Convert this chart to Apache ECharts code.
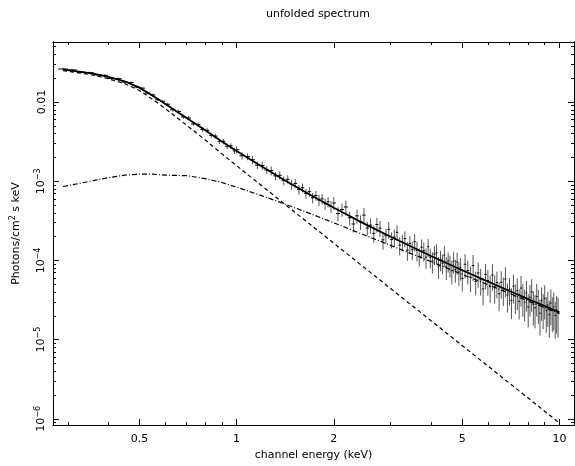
<!DOCTYPE html>
<html><head><meta charset="utf-8">
<script src="https://cdn.jsdelivr.net/npm/echarts@6/dist/echarts.min.js"></script>
<style>html,body{margin:0;padding:0;background:#fff}#c{width:575px;height:466px}</style>
</head><body><div id="c"></div>
<script>
// ---- model curves (keV, photons/cm^2/s/keV) ----
const modelE = [0.29,0.33,0.36,0.40,0.45,0.50,0.55,0.60,0.70,0.80,0.90,1.0,1.2,1.4,1.7,2.0,2.5,3.0,4.0,5.0,6.0,7.0,8.0,10.0];
const modelTotal = [2.575e-2,2.412e-2,2.290e-2,2.088e-2,1.833e-2,1.524e-2,1.204e-2,9.55e-3,6.29e-3,4.40e-3,3.18e-3,2.415e-3,1.524e-3,1.048e-3,6.67e-4,4.64e-4,2.88e-4,1.99e-4,1.14e-4,7.52e-5,5.42e-5,4.12e-5,3.25e-5,2.22e-5];
const modelPow = [2.489e-2,2.317e-2,2.188e-2,1.977e-2,1.713e-2,1.401e-2,1.081e-2,8.35e-3,5.11e-3,3.32e-3,2.22e-3,1.571e-3,8.69e-4,5.26e-4,2.80e-4,1.652e-4,8.0e-5,4.42e-5,1.736e-5,8.40e-6,4.65e-6,2.82e-6,1.83e-6,8.84e-7];
const modelBump = [8.59e-4,9.49e-4,1.020e-3,1.112e-3,1.195e-3,1.230e-3,1.230e-3,1.195e-3,1.178e-3,1.081e-3,9.64e-4,8.44e-4,6.55e-4,5.22e-4,3.87e-4,2.99e-4,2.08e-4,1.549e-4,9.66e-5,6.68e-5,4.95e-5,3.84e-5,3.07e-5,2.13e-5];

// ---- unfolded data points ----
const dataE = [
0.29,0.31,0.33,0.35,0.37,0.39,0.41,0.43,0.45,0.47,0.49,0.51,0.53,0.55,0.57,0.59,
0.61,0.635,0.66,0.685,0.71,0.735,0.76,0.785,0.81,0.835,0.86,0.885,0.91,0.935,0.96,0.985,
1.00,1.04,1.08,1.12,1.16,1.20,1.24,1.28,1.32,1.36,1.40,1.44,1.48,1.52,1.56,1.60,1.64,1.68,1.72,1.76,1.80,1.84,1.88,1.92,1.96,
2.00,2.06,2.12,2.18,2.24,2.30,2.36,2.42,2.48,2.54,2.60,2.66,2.72,2.78,2.84,2.90,2.96,3.02,3.08,3.14,3.20,3.26,3.32,3.38,3.44,3.50,3.56,3.62,3.68,3.74,3.80,3.86,3.92,3.98,4.04,4.10,4.16,4.22,4.28,4.34,4.40,4.46,4.52,4.58,4.64,4.70,4.76,4.82,4.88,4.94,
5.0,5.1,5.2,5.3,5.4,5.5,5.6,5.7,5.8,5.9,6.0,6.1,6.2,6.3,6.4,6.5,6.6,6.7,6.8,6.9,7.0,7.1,7.2,7.3,7.4,7.5,7.6,7.7,7.8,7.9,8.0,8.1,8.2,8.3,8.4,8.5,8.6,8.7,8.8,8.9,9.0,9.1,9.2,9.3,9.4,9.5,9.6,9.7,9.8,9.9];
const dataF = [
0.0262,0.0255,0.0238,0.0236,0.0221,0.0218,0.0199,0.0198,0.0179,0.0176,0.0155,0.0150,0.0130,0.0123,0.0107,0.0102,
9.4e-3,8.0e-3,7.6e-3,6.5e-3,6.3e-3,5.3e-3,5.2e-3,4.5e-3,4.4e-3,3.8e-3,3.72e-3,3.2e-3,3.2e-3,2.77e-3,2.8e-3,2.42e-3,
2.50e-3,2.10e-3,2.05e-3,1.87e-3,1.60e-3,1.58e-3,1.39e-3,1.36e-3,1.17e-3,1.19e-3,1.02e-3,1.06e-3,9.1e-4,9.4e-4,7.9e-4,8.3e-4,7.0e-4,7.4e-4,6.2e-4,6.6e-4,5.8e-4,6.0e-4,5.2e-4,5.5e-4,4.8e-4,
5.32e-4,3.92e-4,4.40e-4,4.74e-4,3.46e-4,2.89e-4,3.66e-4,3.06e-4,3.74e-4,2.57e-4,2.79e-4,2.20e-4,2.85e-4,2.56e-4,1.82e-4,2.06e-4,2.47e-4,1.84e-4,1.97e-4,2.27e-4,1.56e-4,1.71e-4,1.89e-4,1.35e-4,1.64e-4,1.37e-4,1.73e-4,1.35e-4,1.13e-4,1.47e-4,1.33e-4,1.10e-4,1.49e-4,1.10e-4,9.77e-5,1.20e-4,1.25e-4,8.48e-5,1.03e-4,9.24e-5,1.17e-4,8.31e-5,9.85e-5,8.80e-5,7.45e-5,9.76e-5,7.69e-5,9.55e-5,7.17e-5,8.18e-5,
5.94e-5,8.97e-5,7.46e-5,6.17e-5,8.62e-5,5.45e-5,6.96e-5,5.71e-5,4.37e-5,6.67e-5,5.59e-5,4.68e-5,6.57e-5,4.67e-5,5.27e-5,3.80e-5,5.31e-5,4.37e-5,5.83e-5,3.67e-5,4.33e-5,3.13e-5,4.75e-5,3.55e-5,4.15e-5,3.05e-5,4.49e-5,3.47e-5,2.98e-5,3.89e-5,2.59e-5,3.43e-5,4.02e-5,2.80e-5,2.53e-5,3.51e-5,2.92e-5,2.16e-5,3.14e-5,2.57e-5,3.32e-5,2.33e-5,2.73e-5,2.07e-5,2.90e-5,2.34e-5,2.61e-5,2.02e-5,2.38e-5,2.22e-5];
const dataErr = [
0.035,0.03,0.03,0.028,0.03,0.032,0.03,0.03,0.033,0.032,0.035,0.035,0.04,0.04,0.042,0.045,
0.05,0.05,0.055,0.055,0.06,0.06,0.06,0.065,0.065,0.07,0.07,0.075,0.075,0.08,0.08,0.085,
0.10,0.11,0.10,0.12,0.11,0.12,0.11,0.13,0.12,0.12,0.13,0.12,0.14,0.13,0.14,0.13,0.15,0.14,0.15,0.14,0.16,0.15,0.16,0.15,0.17,
0.18,0.2,0.19,0.21,0.2,0.22,0.2,0.21,0.23,0.2,0.22,0.24,0.21,0.23,0.25,0.22,0.24,0.23,0.25,0.22,0.26,0.24,0.23,0.27,0.24,0.26,0.25,0.28,0.26,0.25,0.27,0.29,0.26,0.28,0.3,0.27,0.28,0.31,0.29,0.28,0.3,0.32,0.29,0.31,0.33,0.3,0.32,0.31,0.34,0.32,
0.32,0.34,0.33,0.35,0.36,0.33,0.35,0.37,0.38,0.35,0.36,0.38,0.37,0.39,0.37,0.4,0.38,0.39,0.41,0.4,0.38,0.42,0.4,0.41,0.43,0.41,0.42,0.44,0.43,0.42,0.45,0.43,0.44,0.46,0.45,0.44,0.46,0.48,0.45,0.47,0.46,0.48,0.47,0.49,0.48,0.47,0.5,0.49,0.5,0.52];

// ---- ticks ----
const xMajor = [0.5,1,2,5,10];
const xMajorLabels = ['0.5','1','2','5','10'];
const xMinor = [0.3,0.4,0.6,0.7,0.8,0.9,3,4,6,7,8,9];
const yMajor = [1e-2,1e-3,1e-4,1e-5,1e-6];
const yMajorLabels = ['0.01','10^−3','10^−4','10^−5','10^−6'];
const yMinor = [5e-2,4e-2,3e-2,2e-2,
  9e-3,8e-3,7e-3,6e-3,5e-3,4e-3,3e-3,2e-3,
  9e-4,8e-4,7e-4,6e-4,5e-4,4e-4,3e-4,2e-4,
  9e-5,8e-5,7e-5,6e-5,5e-5,4e-5,3e-5,2e-5,
  9e-6,8e-6,7e-6,6e-6,5e-6,4e-6,3e-6,2e-6,9e-7];
const xRange = [0.270, 11.09];
const yRange = [8.34e-7, 0.0574];

const L = Math.log10;
const FONT = 'DejaVu Sans';
const xMin = L(xRange[0]), xMax = L(xRange[1]);
const yMin = L(yRange[0]), yMax = L(yRange[1]);

function pick(vals, labels, v){
  for (let i=0;i<vals.length;i++) if (Math.abs(L(vals[i])-v) < 1e-6) return labels[i];
  return '';
}
function xAx(pos, vals, len, withLabels, extra){
  return Object.assign({
    type:'value', position:pos, min:xMin, max:xMax,
    axisLine:{show:true, onZero:false, lineStyle:{color:'#000', width:1}},
    axisTick:{show:true, inside:true, length:len, customValues: vals.map(L), lineStyle:{color:'#000', width:1}},
    axisLabel: withLabels ? {show:true, customValues: xMajor.map(L), margin:9, color:'#000', fontSize:11, fontFamily:FONT,
      formatter: v => pick(xMajor, xMajorLabels, v)} : {show:false},
    splitLine:{show:false}
  }, extra || {});
}
function yAx(pos, vals, len, withLabels, extra){
  return Object.assign({
    type:'value', position:pos, min:yMin, max:yMax,
    axisLine:{show:true, onZero:false, lineStyle:{color:'#000', width:1}},
    axisTick:{show:true, inside:true, length:len, customValues: vals.map(L), lineStyle:{color:'#000', width:1}},
    axisLabel: withLabels ? {show:true, customValues: yMajor.map(L), rotate:90, margin:5, color:'#000', fontSize:11, fontFamily:FONT,
      formatter: v => { const s = pick(yMajor, yMajorLabels, v); const p = s.split('^'); return p.length>1 ? '{n|'+p[0]+'}{s|'+p[1]+'}' : '{n|'+s+'}'; },
      rich:{ n:{fontSize:11, fontFamily:FONT, color:'#000'}, s:{fontSize:8, fontFamily:FONT, color:'#000', verticalAlign:'top', padding:[0,0,6,0]} }
    } : {show:false},
    splitLine:{show:false}
  }, extra || {});
}

const errItems = dataE.map((e,i)=>{
  const prev = i>0 ? dataE[i-1] : e - (dataE[i+1]-e);
  const next = i<dataE.length-1 ? dataE[i+1] : e + (e-dataE[i-1]);
  const f = dataF[i], r = dataErr[i];
  return [L(e), L(f*(1-r)), L(f*(1+r)), L(f), L((prev+e)/2), L((e+next)/2)];
});
function renderItem(params, api){
  const top = api.coord([api.value(0), api.value(2)]);
  const bot = api.coord([api.value(0), api.value(1)]);
  const l = api.coord([api.value(4), api.value(3)]);
  const r = api.coord([api.value(5), api.value(3)]);
  return {type:'group', children:[
    {type:'line', shape:{x1:top[0],y1:top[1],x2:bot[0],y2:bot[1]}, style:{stroke:'#555', lineWidth:1}},
    {type:'line', shape:{x1:l[0],y1:l[1],x2:r[0],y2:r[1]}, style:{stroke:'#000', lineWidth:1}}
  ]};
}
const toXY = (es, fs) => es.map((e,i)=>[L(e), L(fs[i])]);

const chart = echarts.init(document.getElementById('c'));
chart.setOption({
  animation:false,
  backgroundColor:'#fff',
  title:{text:'unfolded spectrum', left:313, top:4, textAlign:'center',
    textStyle:{fontFamily:FONT, fontSize:11, fontWeight:'normal', color:'#000'}},
  grid:{left:53, right:1, top:42, bottom:37, containLabel:false},
  xAxis:[
    xAx('bottom', xMajor, 6, true, {name:'channel energy (keV)', nameLocation:'middle', nameGap:22,
      nameTextStyle:{fontFamily:FONT, fontSize:11, color:'#000'}}),
    xAx('bottom', xMinor, 3, false),
    xAx('top', xMajor, 6, false),
    xAx('top', xMinor, 3, false)
  ],
  yAxis:[
    yAx('left', yMajor, 6, true, {name:'Photons/cm{s|2} s keV', nameLocation:'middle', nameGap:30, nameRotate:90,
      nameTextStyle:{fontFamily:FONT, fontSize:11, color:'#000',
        rich:{s:{fontSize:8, fontFamily:FONT, color:'#000', verticalAlign:'top', padding:[0,0,6,0]}}}}),
    yAx('left', yMinor, 3, false),
    yAx('right', yMajor, 6, false),
    yAx('right', yMinor, 3, false)
  ],
  series:[
    {type:'custom', renderItem, data:errItems, xAxisIndex:0, yAxisIndex:0, encode:{x:0, y:3}, clip:true, z:2},
    {type:'line', data:toXY(modelE, modelPow), showSymbol:false, xAxisIndex:0, yAxisIndex:0,
      lineStyle:{color:'#000', width:1.2, type:[4,3]}, z:3},
    {type:'line', data:toXY(modelE, modelBump), showSymbol:false, xAxisIndex:0, yAxisIndex:0,
      lineStyle:{color:'#000', width:1.2, type:[5,2,1,2]}, z:3},
    {type:'line', data:toXY(modelE, modelTotal), showSymbol:false, xAxisIndex:0, yAxisIndex:0,
      lineStyle:{color:'#000', width:1.8}, z:4}
  ]
});
</script></body></html>
